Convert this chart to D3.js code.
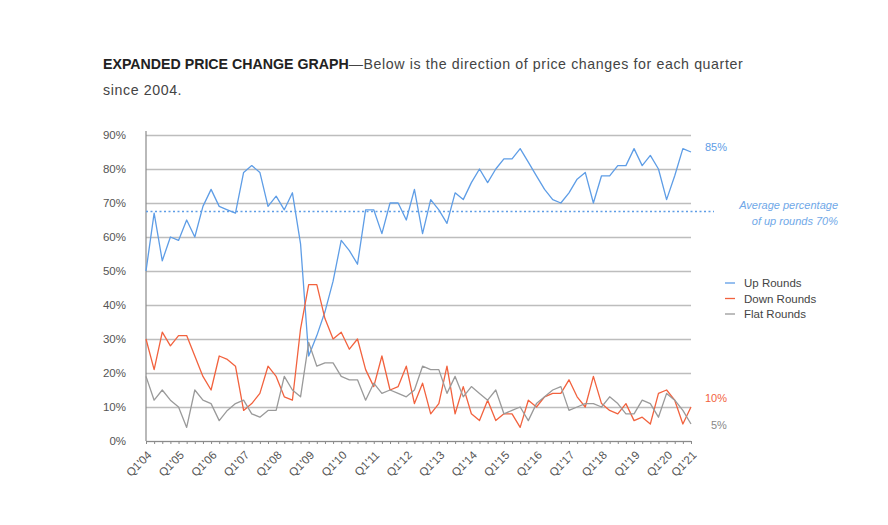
<!DOCTYPE html>
<html>
<head>
<meta charset="utf-8">
<script src="https://cdn.jsdelivr.net/npm/d3@7"></script>
<style>
  body { margin: 0; background: #fff; }
  text { font-family: "Liberation Sans", Arial, sans-serif; }
</style>
</head>
<body>
<div id="chart"></div>
<script>
// quarters Q1'04 .. (68 points, last one is labelled Q1'21 on the chart)
const quarters = [
  "Q1'04","Q2'04","Q3'04","Q4'04","Q1'05","Q2'05","Q3'05","Q4'05","Q1'06","Q2'06","Q3'06","Q4'06",
  "Q1'07","Q2'07","Q3'07","Q4'07","Q1'08","Q2'08","Q3'08","Q4'08","Q1'09","Q2'09","Q3'09","Q4'09",
  "Q1'10","Q2'10","Q3'10","Q4'10","Q1'11","Q2'11","Q3'11","Q4'11","Q1'12","Q2'12","Q3'12","Q4'12",
  "Q1'13","Q2'13","Q3'13","Q4'13","Q1'14","Q2'14","Q3'14","Q4'14","Q1'15","Q2'15","Q3'15","Q4'15",
  "Q1'16","Q2'16","Q3'16","Q4'16","Q1'17","Q2'17","Q3'17","Q4'17","Q1'18","Q2'18","Q3'18","Q4'18",
  "Q1'19","Q2'19","Q3'19","Q4'19","Q1'20","Q2'20","Q3'20","Q4'20"
];

const upRounds = [
  50, 67, 53, 60, 59, 65, 60, 69, 74, 69,
  68, 67, 79, 81, 79, 69, 72, 68, 73, 58,
  25, 31, 38, 47, 59, 56, 52, 68, 68, 61,
  70, 70, 65, 74, 61, 71, 68, 64, 73, 71,
  76, 80, 76, 80, 83, 83, 86, 82, 78, 74,
  71, 70, 73, 77, 79, 70, 78, 78, 81, 81,
  86, 81, 84, 80, 71, 78, 86, 85
];
const downRounds = [
  30, 21, 32, 28, 31, 31, 25, 19, 15, 25,
  24, 22, 9, 11, 14, 22, 19, 13, 12, 33,
  46, 46, 36, 30, 32, 27, 30, 21, 16, 25,
  15, 16, 22, 11, 17, 8, 11, 22, 8, 16,
  8, 6, 12, 6, 8, 8, 4, 12, 10, 13,
  14, 14, 18, 13, 10, 19, 11, 9, 8, 11,
  6, 7, 5, 14, 15, 12, 5, 10
];
const flatRounds = [
  19, 12, 15, 12, 10, 4, 15, 12, 11, 6,
  9, 11, 12, 8, 7, 9, 9, 19, 15, 13,
  29, 22, 23, 23, 19, 18, 18, 12, 17, 14,
  15, 14, 13, 15, 22, 21, 21, 14, 19, 13,
  16, 14, 12, 15, 8, 9, 10, 6, 11, 13,
  15, 16, 9, 10, 11, 11, 10, 13, 11, 8,
  8, 12, 11, 7, 14, 12, 9, 5
];

const tickIndex  = [0, 4, 8, 12, 16, 20, 24, 28, 32, 36, 40, 44, 48, 52, 56, 60, 64, 67];
const tickLabels = ["Q1'04","Q1'05","Q1'06","Q1'07","Q1'08","Q1'09","Q1'10","Q1'11","Q1'12",
                    "Q1'13","Q1'14","Q1'15","Q1'16","Q1'17","Q1'18","Q1'19","Q1'20","Q1'21"];
const yTicks = [0, 10, 20, 30, 40, 50, 60, 70, 80, 90];
const avgUp = 67.5;

const seriesNames = ["Up Rounds", "Down Rounds", "Flat Rounds"];
const colors = ["#5e9de6", "#f2623e", "#9a9a9a"];
const series = [upRounds, downRounds, flatRounds];

const width = 888, height = 525;
const plotLeft = 146, plotRight = 691, plotTop = 135, plotBottom = 441;

const svg = d3.select("#chart").append("svg")
    .attr("width", width)
    .attr("height", height);

// title
const title = svg.append("text")
    .attr("x", 103).attr("y", 69)
    .attr("font-size", 14.2)
    .attr("fill", "#444");
title.append("tspan").attr("font-weight", "bold").attr("fill", "#222").text("EXPANDED PRICE CHANGE GRAPH");
title.append("tspan").attr("letter-spacing", 0.6).text("\u2014Below is the direction of price changes for each quarter");
svg.append("text")
    .attr("x", 103).attr("y", 95)
    .attr("font-size", 14.2)
    .attr("letter-spacing", 0.6)
    .attr("fill", "#444")
    .text("since 2004.");

const x = d3.scalePoint()
    .domain(quarters)
    .range([plotLeft, plotRight]);

const y = d3.scaleLinear()
    .domain([0, 90])
    .range([plotBottom, plotTop]);

// gridlines + y labels
const yAxis = svg.append("g")
    .attr("transform", `translate(${plotLeft},0)`)
    .call(d3.axisLeft(y).tickValues(yTicks).tickSize(-(plotRight - plotLeft)).tickPadding(20).tickFormat(d => d + "%"));
yAxis.select(".domain").remove();
yAxis.selectAll(".tick line")
    .attr("stroke", "#bdbdbd")
    .attr("stroke-width", 1.6);
yAxis.selectAll(".tick text")
    .attr("font-size", 11.5)
    .attr("fill", "#555")
    .attr("font-family", "Liberation Sans, Arial, sans-serif");

// vertical axis line
svg.append("line")
    .attr("x1", plotLeft).attr("x2", plotLeft)
    .attr("y1", plotTop - 4).attr("y2", plotBottom)
    .attr("stroke", "#8a8a8a")
    .attr("stroke-width", 1.2);

// x axis
const labelMap = new Map(tickIndex.map((i, k) => [quarters[i], tickLabels[k]]));
const xAxis = svg.append("g")
    .attr("transform", `translate(0,${plotBottom})`)
    .call(d3.axisBottom(x).tickSize(3).tickSizeOuter(0).tickFormat(d => labelMap.get(d) || ""));
xAxis.select(".domain").attr("stroke", "#8a8a8a").attr("stroke-width", 1.2);
xAxis.selectAll(".tick line").attr("stroke", "#8a8a8a");
xAxis.selectAll(".tick text")
    .attr("font-size", 11.5)
    .attr("fill", "#555")
    .attr("font-family", "Liberation Sans, Arial, sans-serif")
    .attr("text-anchor", "end")
    .attr("x", 0)
    .attr("y", 0)
    .attr("dy", "0.35em")
    .attr("transform", "translate(3,12) rotate(-45)");

// average line
svg.append("line")
    .attr("x1", plotLeft).attr("x2", 714)
    .attr("y1", y(avgUp)).attr("y2", y(avgUp))
    .attr("stroke", "#5e9de6")
    .attr("stroke-width", 1.3)
    .attr("stroke-dasharray", "2,2.5");

// series lines
const line = d3.line()
    .x((d, i) => x(quarters[i]))
    .y(d => y(d));

svg.selectAll(".series")
    .data(series)
    .enter()
    .append("path")
    .attr("class", "series")
    .attr("d", d => line(d))
    .attr("fill", "none")
    .attr("stroke", (d, i) => colors[i])
    .attr("stroke-width", 1.3)
    .attr("stroke-linejoin", "round");

// end labels
const endLabels = [
  { text: upRounds[upRounds.length - 1] + "%", color: colors[0], x: 705, y: 151 },
  { text: downRounds[downRounds.length - 1] + "%", color: colors[1], x: 705, y: 402 },
  { text: flatRounds[flatRounds.length - 1] + "%", color: "#888", x: 711, y: 429 }
];
svg.selectAll(".endlabel")
    .data(endLabels)
    .enter()
    .append("text")
    .attr("x", d => d.x)
    .attr("y", d => d.y)
    .attr("font-size", 11)
    .attr("fill", d => d.color)
    .text(d => d.text);

// average annotation
svg.append("text")
    .attr("x", 838).attr("y", 209)
    .attr("text-anchor", "end")
    .attr("font-size", 11)
    .attr("font-style", "italic")
    .attr("fill", "#6fa8e8")
    .text("Average percentage");
svg.append("text")
    .attr("x", 838).attr("y", 225)
    .attr("text-anchor", "end")
    .attr("font-size", 11)
    .attr("font-style", "italic")
    .attr("fill", "#6fa8e8")
    .text("of up rounds 70%");

// legend
const legend = svg.selectAll(".legend")
    .data(seriesNames)
    .enter()
    .append("g")
    .attr("class", "legend")
    .attr("transform", (d, i) => `translate(725,${283 + i * 15.5})`);
legend.append("line")
    .attr("x1", 0).attr("x2", 10)
    .attr("stroke", (d, i) => colors[i])
    .attr("stroke-width", 1.3);
legend.append("text")
    .attr("x", 19).attr("y", 4)
    .attr("font-size", 11.5)
    .attr("fill", "#444")
    .text(d => d);
</script>
</body>
</html>
